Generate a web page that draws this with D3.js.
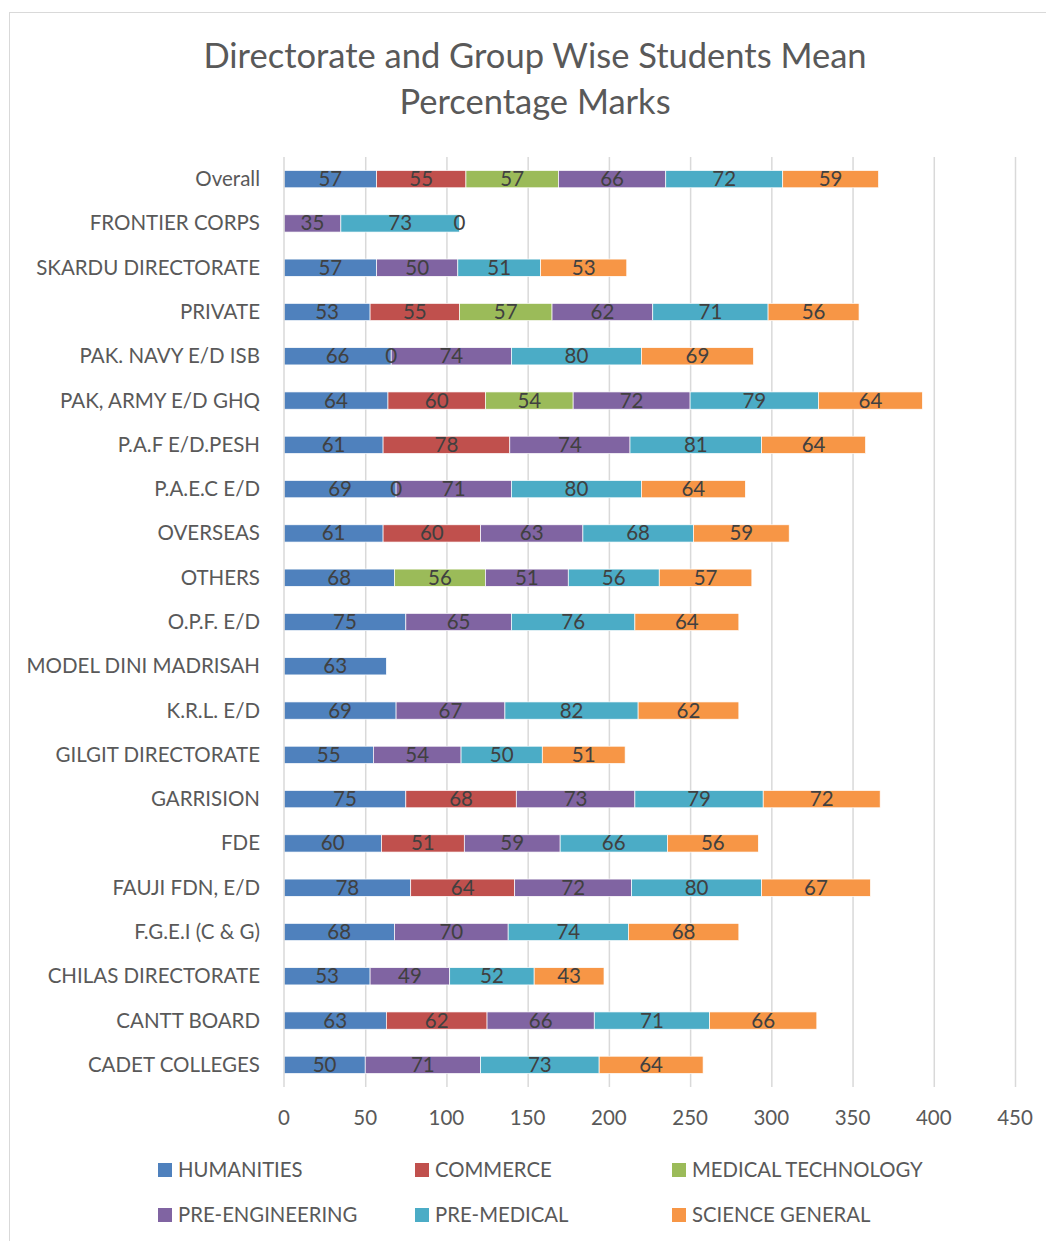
<!DOCTYPE html>
<html>
<head>
<meta charset="utf-8">
<script src="https://cdn.jsdelivr.net/npm/d3@7"></script>
<style>
  body { margin: 0; background: #fff; }
  text { font-family: Lato, "Open Sans", sans-serif; }
</style>
</head>
<body>
<script>
// categories top to bottom
var categories = ["Overall", "FRONTIER CORPS", "SKARDU DIRECTORATE", "PRIVATE", "PAK. NAVY E/D ISB",
  "PAK, ARMY E/D GHQ", "P.A.F E/D.PESH", "P.A.E.C E/D", "OVERSEAS", "OTHERS", "O.P.F. E/D",
  "MODEL DINI MADRISAH", "K.R.L. E/D", "GILGIT DIRECTORATE", "GARRISION", "FDE", "FAUJI FDN, E/D",
  "F.G.E.I (C & G)", "CHILAS DIRECTORATE", "CANTT BOARD", "CADET COLLEGES"]

var seriesNames = ["HUMANITIES", "COMMERCE", "MEDICAL TECHNOLOGY", "PRE-ENGINEERING", "PRE-MEDICAL", "SCIENCE GENERAL"]
var colors = ["#4F81BD", "#C0504D", "#9BBB59", "#8064A2", "#4BACC6", "#F79646"]

// null = no value for that group
var humanities   = [57, null, 57, 53, 66, 64, 61, 69, 61, 68, 75, 63, 69, 55, 75, 60, 78, 68, 53, 63, 50]
var commerce     = [55, null, null, 55, 0, 60, 78, 0, 60, null, null, null, null, null, 68, 51, 64, null, null, 62, null]
var medicalTech  = [57, null, null, 57, null, 54, null, null, null, 56, null, null, null, null, null, null, null, null, null, null, null]
var preEng       = [66, 35, 50, 62, 74, 72, 74, 71, 63, 51, 65, null, 67, 54, 73, 59, 72, 70, 49, 66, 71]
var preMed       = [72, 73, 51, 71, 80, 79, 81, 80, 68, 56, 76, null, 82, 50, 79, 66, 80, 74, 52, 71, 73]
var sciGeneral   = [59, 0, 53, 56, 69, 64, 64, 64, 59, 57, 64, null, 62, 51, 72, 56, 67, 68, 43, 66, 64]

var xTicks = [0, 50, 100, 150, 200, 250, 300, 350, 400, 450]

var allSeries = [humanities, commerce, medicalTech, preEng, preMed, sciGeneral]

var W = 1046, H = 1241
var svg = d3.select("body").append("svg").attr("width", W).attr("height", H)

// chart border
svg.append("rect")
  .attr("x", 9.5).attr("y", 12.5).attr("width", 1060).attr("height", 1260)
  .style("fill", "none").style("stroke", "#d9d9d9")

svg.append("text").attr("x", 535).attr("y", 68).attr("text-anchor", "middle")
  .style("font-size", "34.5px").style("fill", "#595959")
  .text("Directorate and Group Wise Students Mean")
svg.append("text").attr("x", 535).attr("y", 114).attr("text-anchor", "middle")
  .style("font-size", "34.5px").style("fill", "#595959")
  .text("Percentage Marks")

var x = d3.scaleLinear().domain([0, 450]).range([284, 1015])
var y = d3.scaleBand().domain(categories).range([157, 1087]).paddingInner(0.61).paddingOuter(0.305)

// gridlines
svg.selectAll("line.grid")
  .data(xTicks.slice(1))
  .enter()
  .append("line")
  .attr("x1", function(d){ return x(d) + 0.5 })
  .attr("x2", function(d){ return x(d) + 0.5 })
  .attr("y1", 157).attr("y2", 1087)
  .style("stroke", "#d9d9d9").style("stroke-width", 1.5)

// stack it
var rows = categories.map(function(c, i){
  var o = {cat: c}
  seriesNames.forEach(function(s, j){ o[s] = allSeries[j][i] == null ? 0 : allSeries[j][i] })
  return o
})
var stacked = d3.stack().keys(seriesNames)(rows)

var layers = svg.selectAll("g.layer")
  .data(stacked)
  .enter()
  .append("g")
  .attr("class", "layer")

layers.selectAll("rect")
  .data(function(d){ return d })
  .enter()
  .append("rect")
  .attr("x", function(d){ return x(d[0]) })
  .attr("y", function(d){ return y(d.data.cat) })
  .attr("width", function(d){ return x(d[1]) - x(d[0]) })
  .attr("height", y.bandwidth())
  .style("fill", function(d){ return colors[seriesNames.indexOf(d3.select(this.parentNode).datum().key)] })
  .style("stroke", "#fff").style("stroke-width", 0.7)

// data labels
stacked.forEach(function(layer, j){
  layer.forEach(function(d, i){
    var v = allSeries[j][i]
    if (v == null) return
    svg.append("text")
      .attr("x", x((d[0] + d[1]) / 2))
      .attr("y", y(d.data.cat) + y.bandwidth() / 2 + 7)
      .attr("text-anchor", "middle")
      .style("font-size", "20.5px").style("fill", "#404040")
      .text(v)
  })
})

// category axis line
svg.append("line").attr("x1", 284).attr("x2", 284).attr("y1", 157).attr("y2", 1087)
  .style("stroke", "#d9d9d9").style("stroke-width", 1.5)

svg.selectAll("text.cat")
  .data(categories)
  .enter()
  .append("text")
  .attr("x", 260)
  .attr("y", function(d){ return y(d) + y.bandwidth() / 2 + 7 })
  .attr("text-anchor", "end")
  .style("font-size", "20.5px").style("fill", "#595959")
  .text(function(d){ return d })

svg.selectAll("text.tick")
  .data(xTicks)
  .enter()
  .append("text")
  .attr("x", function(d){ return x(d) })
  .attr("y", 1125)
  .attr("text-anchor", "middle")
  .style("font-size", "20.5px").style("fill", "#595959")
  .text(function(d){ return d })

// legend
var legX = [158, 415, 672], legY = [1170, 1215]
seriesNames.forEach(function(s, i){
  var lx = legX[i % 3], ly = legY[Math.floor(i / 3)]
  svg.append("rect").attr("x", lx).attr("y", ly - 7).attr("width", 14).attr("height", 14)
    .style("fill", colors[i])
  svg.append("text").attr("x", lx + 20).attr("y", ly + 7)
    .style("font-size", "20.3px").style("fill", "#595959")
    .text(s)
})
</script>
</body>
</html>
